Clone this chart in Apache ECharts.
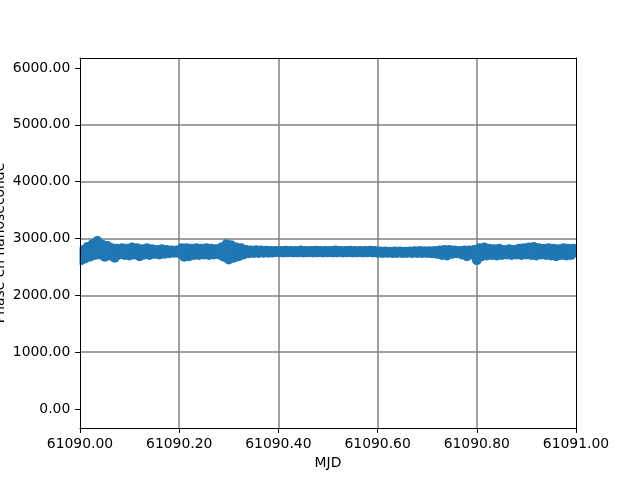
<!DOCTYPE html>
<html>
<head>
<meta charset="utf-8">
<script src="https://cdn.jsdelivr.net/npm/echarts@6/dist/echarts.min.js"></script>
<style>html,body{margin:0;padding:0;background:#fff}#c{width:640px;height:480px}</style>
</head>
<body>
<div id="c"></div>
<script>
// Sampling: start MJD and step between samples (regular time grid)
const mjdStart = 61090.0;
const mjdStep = 0.0025;
// Phase values (ns), one per sample
const phase = [
2720,2620,2700,2800, 2650,2760,2850,2700,
2680,2780,2900,2800, 2710,2850,2956,2780,
2720,2820,2890,2760, 2680,2780,2870,2760,
2700,2760,2830,2780, 2660,2740,2820,2770,
2720,2780,2830,2760, 2710,2770,2820,2750,
2700,2780,2840,2760, 2720,2790,2830,2750,
2690,2760,2810,2770, 2720,2780,2830,2760,
2710,2770,2810,2760, 2730,2780,2800,2760,
2720,2770,2810,2750, 2730,2780,2800,2760,
2740,2770,2790,2760, 2750,2780,2790,2760,
2740,2790,2830,2770, 2680,2760,2830,2770,
2690,2770,2820,2760, 2710,2780,2830,2760,
2710,2770,2820,2760, 2720,2780,2830,2760,
2710,2770,2820,2760, 2720,2780,2810,2760,
2720,2790,2840,2760, 2680,2780,2900,2800,
2630,2720,2880,2780, 2660,2750,2840,2760,
2690,2770,2830,2760, 2720,2780,2800,2760,
2740,2770,2790,2760, 2745,2770,2795,2760,
2745,2770,2790,2760, 2750,2770,2785,2760,
2750,2770,2780,2755, 2760,2775,2780,2765,
2760,2770,2780,2765, 2755,2770,2785,2760,
2760,2775,2780,2765, 2755,2770,2780,2760,
2760,2770,2790,2765, 2755,2775,2780,2760,
2760,2770,2780,2765, 2755,2770,2785,2760,
2760,2775,2780,2765, 2755,2770,2780,2760,
2760,2770,2780,2765, 2755,2775,2790,2760,
2760,2770,2780,2765, 2755,2770,2780,2760,
2760,2775,2785,2765, 2755,2770,2780,2760,
2760,2770,2780,2765, 2755,2770,2780,2760,
2760,2775,2785,2765, 2755,2770,2780,2760,
2750,2760,2770,2755, 2745,2760,2770,2755,
2750,2760,2765,2755, 2745,2760,2770,2750,
2750,2760,2770,2755, 2745,2760,2765,2750,
2750,2760,2770,2755, 2745,2765,2775,2755,
2745,2765,2780,2755, 2745,2760,2775,2755,
2745,2765,2775,2750, 2740,2760,2780,2755,
2730,2760,2790,2755, 2710,2760,2800,2750,
2700,2750,2800,2755, 2730,2760,2790,2750,
2740,2760,2780,2750, 2720,2760,2790,2755,
2690,2750,2790,2750, 2720,2760,2800,2755,
2620,2700,2830,2770, 2690,2760,2840,2770,
2700,2770,2820,2760, 2710,2770,2810,2760,
2700,2760,2820,2770, 2710,2770,2800,2760,
2720,2770,2810,2760, 2710,2760,2800,2750,
2720,2770,2820,2760, 2710,2770,2830,2760,
2720,2780,2840,2770, 2710,2790,2850,2770,
2700,2780,2830,2760, 2720,2770,2820,2760,
2710,2770,2830,2760, 2700,2770,2820,2750,
2690,2760,2810,2760, 2710,2770,2830,2760,
2700,2760,2820,2760, 2710,2770,2820,2760,
2790
];
const xTicks = [61090.0, 61090.2, 61090.4, 61090.6, 61090.8, 61091.0];
const yTicks = [0, 1000, 2000, 3000, 4000, 5000, 6000];
const xRange = [61090, 61091];
const yRange = [-334, 6176];

const points = phase.map((v, i) => [mjdStart + i * mjdStep, v]);
const font = 'DejaVu Sans';
const W = 640, H = 480, gl = 80, gr = 64, gt = 58, gb = 52;
const txt = () => ({fontFamily: font, fontSize: 13.9, color: '#000'});
const blackLine = () => ({show: true, onZero: false, lineStyle: {color: '#000', width: 1}});
const gridSplit = () => ({show: true, showMinLine: false, showMaxLine: false, lineStyle: {color: '#808080', width: 1.5}});
const fmt = v => Number(v).toFixed(2);

const chart = echarts.init(document.getElementById('c'), null, {renderer: 'canvas'});
chart.setOption({
  animation: false,
  backgroundColor: '#ffffff',
  grid: {left: gl, right: gr, top: gt, bottom: gb, show: false, containLabel: false, outerBoundsMode: 'none'},
  xAxis: [
    // grid lines (under the points)
    {type: 'value', min: xRange[0], max: xRange[1], position: 'bottom', z: 0,
     axisLine: {show: false, onZero: false}, axisTick: {show: false, customValues: xTicks},
     axisLabel: {show: false, customValues: xTicks}, splitLine: gridSplit()},
    // visible bottom axis (above the points)
    {type: 'value', min: xRange[0], max: xRange[1], position: 'bottom', z: 10,
     name: 'MJD', nameLocation: 'middle', nameGap: 28, nameMoveOverlap: false, nameTextStyle: txt(),
     axisLine: blackLine(),
     axisTick: {show: true, length: 4.9, lineStyle: {color: '#000', width: 1}, customValues: xTicks},
     axisLabel: Object.assign({margin: 9.7, customValues: xTicks, formatter: fmt}, txt()),
     splitLine: {show: false}},
    // top frame
    {type: 'value', min: xRange[0], max: xRange[1], position: 'top', z: 10,
     axisLine: blackLine(), axisTick: {show: false}, axisLabel: {show: false}, splitLine: {show: false}}
  ],
  yAxis: [
    {type: 'value', min: yRange[0], max: yRange[1], position: 'left', z: 0,
     axisLine: {show: false, onZero: false}, axisTick: {show: false, customValues: yTicks},
     axisLabel: {show: false, customValues: yTicks}, splitLine: gridSplit()},
    {type: 'value', min: yRange[0], max: yRange[1], position: 'left', z: 10,
     name: 'Phase en nanoseconde', nameLocation: 'middle', nameGap: 73, nameMoveOverlap: false, nameTextStyle: txt(),
     axisLine: blackLine(),
     axisTick: {show: true, length: 4.9, lineStyle: {color: '#000', width: 1}, customValues: yTicks},
     axisLabel: Object.assign({margin: 9.7, customValues: yTicks, formatter: fmt}, txt()),
     splitLine: {show: false}},
    // right frame
    {type: 'value', min: yRange[0], max: yRange[1], position: 'right', z: 10,
     axisLine: blackLine(), axisTick: {show: false}, axisLabel: {show: false}, splitLine: {show: false}}
  ],
  // narrow white masks so that markers are clipped at the plot frame, as in the reference
  graphic: [
    {type: 'rect', z: 5, silent: true, shape: {x: gl - 8, y: gt, width: 7.5, height: H - gt - gb}, style: {fill: '#fff'}},
    {type: 'rect', z: 5, silent: true, shape: {x: W - gr + 0.5, y: gt, width: 8, height: H - gt - gb}, style: {fill: '#fff'}}
  ],
  series: [{
    type: 'scatter', xAxisIndex: 0, yAxisIndex: 0, z: 2,
    data: points, symbol: 'circle', symbolSize: 10,
    itemStyle: {color: '#1f77b4', opacity: 1},
    emphasis: {disabled: true}
  }]
});
</script>
</body>
</html>
